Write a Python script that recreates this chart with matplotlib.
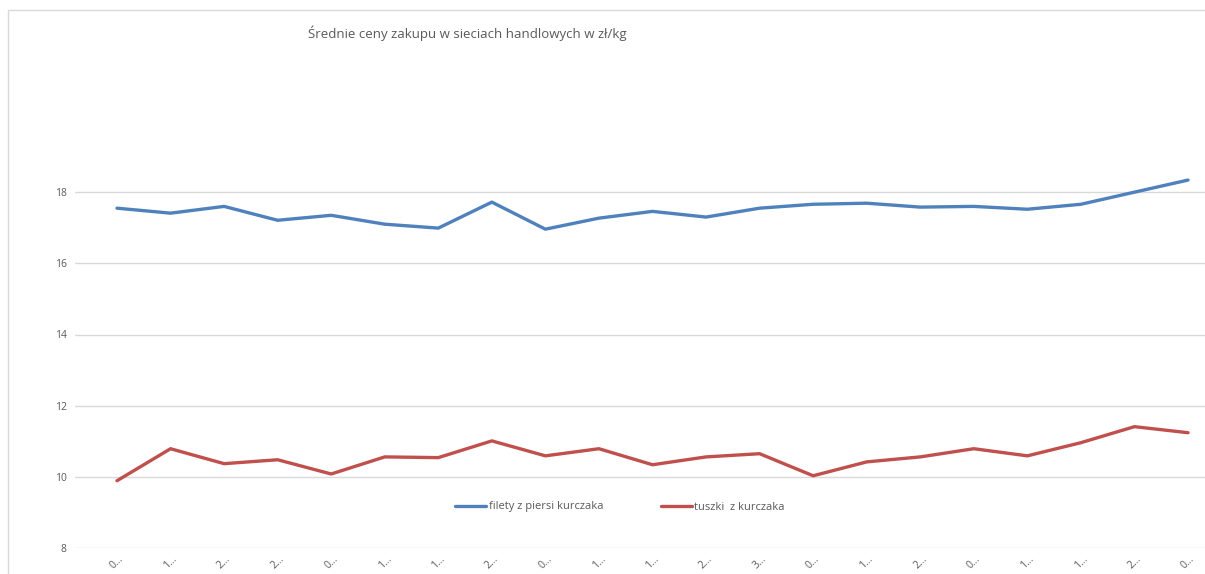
import matplotlib.pyplot as plt
from matplotlib.patches import Rectangle

# dane z wykresu (ceny w zł/kg)
labels = ["0…", "1…", "2…", "2…", "0…", "1…", "1…", "2…", "0…", "1…", "1…",
          "2…", "3…", "0…", "1…", "2…", "0…", "1…", "1…", "2…", "0…"]
filety = [17.55, 17.41, 17.60, 17.21, 17.35, 17.10, 16.99, 17.72, 16.96, 17.27, 17.46,
          17.30, 17.55, 17.66, 17.69, 17.58, 17.60, 17.52, 17.66, 18.00, 18.34]
tuszki = [9.89, 10.79, 10.37, 10.48, 10.08, 10.56, 10.54, 11.01, 10.59, 10.79, 10.34,
          10.56, 10.65, 10.03, 10.42, 10.56, 10.79, 10.59, 10.96, 11.41, 11.24]
yticks = [8, 10, 12, 14, 16, 18]

W, H = 1205, 574
fig = plt.figure(figsize=(W / 100, H / 100), dpi=100)
plt.rcParams['font.family'] = ['Open Sans', 'DejaVu Sans']

# ramka wykresu
fig.patches.append(Rectangle((8 / W, -0.1), 1.2, 1 - 10 / H + 0.1, transform=fig.transFigure,
                             fill=False, edgecolor='#d9d9d9', linewidth=1))

ax = fig.add_axes([75 / W, 1 - 548 / H, 1 - 75 / W, (548 - 121) / H])
x = list(range(len(labels)))
ax.plot(x, filety, color='#4f81bd', linewidth=2.4, label='filety z piersi kurczaka', solid_capstyle='round')
ax.plot(x, tuszki, color='#c0504d', linewidth=2.4, label='tuszki  z kurczaka', solid_capstyle='round')

ax.set_xlim(-0.784, 20.317)
ax.set_ylim(8, 20)
ax.set_yticks(yticks)
ax.set_xticks(x)
ax.set_xticklabels(labels, rotation=45, fontsize=7.5, color='#595959')
ax.tick_params(axis='y', labelsize=7.5, colors='#595959', length=0, pad=6)
ax.tick_params(axis='x', length=0, pad=4)
ax.grid(axis='y', color='#d9d9d9', linewidth=1)
for s in ax.spines.values():
    s.set_visible(False)
ax.set_axisbelow(True)

fig.text(308 / W, 1 - 33 / H, 'Średnie ceny zakupu w sieciach handlowych w zł/kg',
         fontsize=9.5, color='#595959', va='center', ha='left')

fig.legend(loc='center', bbox_to_anchor=(620 / W, 1 - 507 / H), ncol=2, frameon=False,
           fontsize=8, labelcolor='#595959', handlelength=2.8, columnspacing=5.2,
           handletextpad=0.2)

plt.savefig('out.png', dpi=100)
